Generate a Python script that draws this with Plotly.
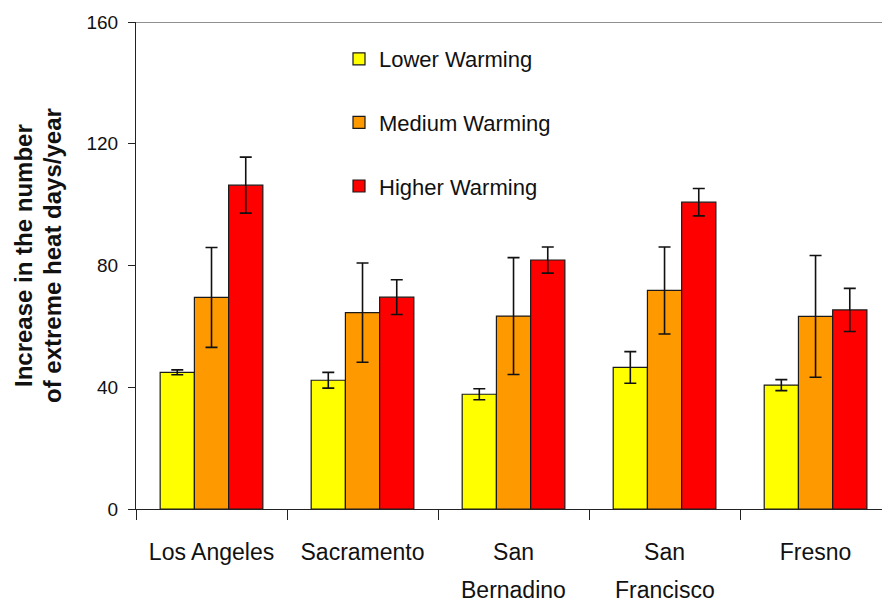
import plotly.graph_objects as go

cities = ["Los Angeles", "Sacramento", "San Bernadino", "San Francisco", "Fresno"]
tick_line1 = ["Los Angeles", "Sacramento", "San", "San", "Fresno"]
tick_line2 = ["", "", "Bernadino", "Francisco", ""]
y_ticks = [0, 40, 80, 120, 160]
y_title_lines = ["Increase in the number", "of extreme heat days/year"]

lower = [44.9, 42.3, 37.7, 46.5, 40.7]
lower_err = [0.8, 2.6, 1.8, 5.2, 1.8]
medium = [69.5, 64.5, 63.4, 71.8, 63.3]
medium_err = [16.4, 16.3, 19.2, 14.3, 20.0]
higher = [106.4, 69.6, 81.8, 100.8, 65.4]
higher_err = [9.2, 5.7, 4.3, 4.5, 7.1]

series = [
    ("Lower Warming", lower, lower_err, "#FFFF00"),
    ("Medium Warming", medium, medium_err, "#FF9900"),
    ("Higher Warming", higher, higher_err, "#FF0000"),
]

FONT = "Liberation Sans, Arial, sans-serif"

fig = go.Figure()
for name, vals, errs, color in series:
    fig.add_trace(go.Bar(
        x=cities, y=vals, name=name, legendgroup=name,
        marker=dict(color=color, line=dict(color="#1a1a1a", width=1.2)),
        error_y=dict(type="data", array=errs, visible=True, color="#111111",
                     thickness=1.6, width=6),
    ))

# top border line at the axis maximum
fig.add_shape(type="line", xref="paper", yref="y", x0=0, x1=1,
              y0=y_ticks[-1], y1=y_ticks[-1], line=dict(color="#222", width=1))

L, T, B = 136, 22, 94
PW, PH = 882 - L, 603 - T - B

for i, (line, px) in enumerate(zip(y_title_lines, [23, 52])):
    fig.add_annotation(text="<b>%s</b>" % line, xref="paper", yref="paper",
                       x=(px - L) / PW, y=(509 - 256) / PH, xanchor="center",
                       yanchor="middle", textangle=-90, showarrow=False,
                       font=dict(family=FONT, size=24, color="#111111"))

for c, t in zip(cities, tick_line2):
    if t:
        fig.add_annotation(text=t, xref="x", yref="paper", x=c,
                           y=(509 - 590) / PH, xanchor="center", yanchor="middle",
                           showarrow=False,
                           font=dict(family=FONT, size=23, color="#111111"))

xr = [-0.5, 4.44]
fig.update_layout(
    width=882, height=603,
    margin=dict(l=L, r=0, t=T, b=B, autoexpand=False),
    paper_bgcolor="white", plot_bgcolor="white",
    font=dict(family=FONT, color="#111111"),
    barmode="group", bargap=0.32, bargroupgap=0,
    showlegend=True,
    legend=dict(x=(339 - L) / PW, y=1 - 16 / PH, xanchor="left", yanchor="top",
                font=dict(family=FONT, size=22, color="#111111"),
                traceorder="grouped", tracegroupgap=32,
                bgcolor="rgba(0,0,0,0)", itemwidth=30),
    xaxis=dict(
        type="category", range=xr, automargin=False,
        tickmode="array", tickvals=cities, ticktext=tick_line1, tickangle=0,
        tickson="boundaries", ticks="outside", ticklen=10, tickwidth=1,
        tickcolor="#222", showline=True, linecolor="#222", linewidth=1,
        tickfont=dict(family=FONT, size=23), showgrid=False,
        ticklabelstandoff=22,
    ),
    yaxis=dict(
        range=[0, 160], tickvals=y_ticks, automargin=False,
        ticks="outside", ticklen=7, tickcolor="#222",
        showline=True, linecolor="#222", linewidth=1,
        showgrid=False, zeroline=False, ticklabelstandoff=6,
        tickfont=dict(family=FONT, size=19),
    ),
)

fig.write_html("out.html", config={"displayModeBar": False},
               post_script="document.body.style.margin='0';")
